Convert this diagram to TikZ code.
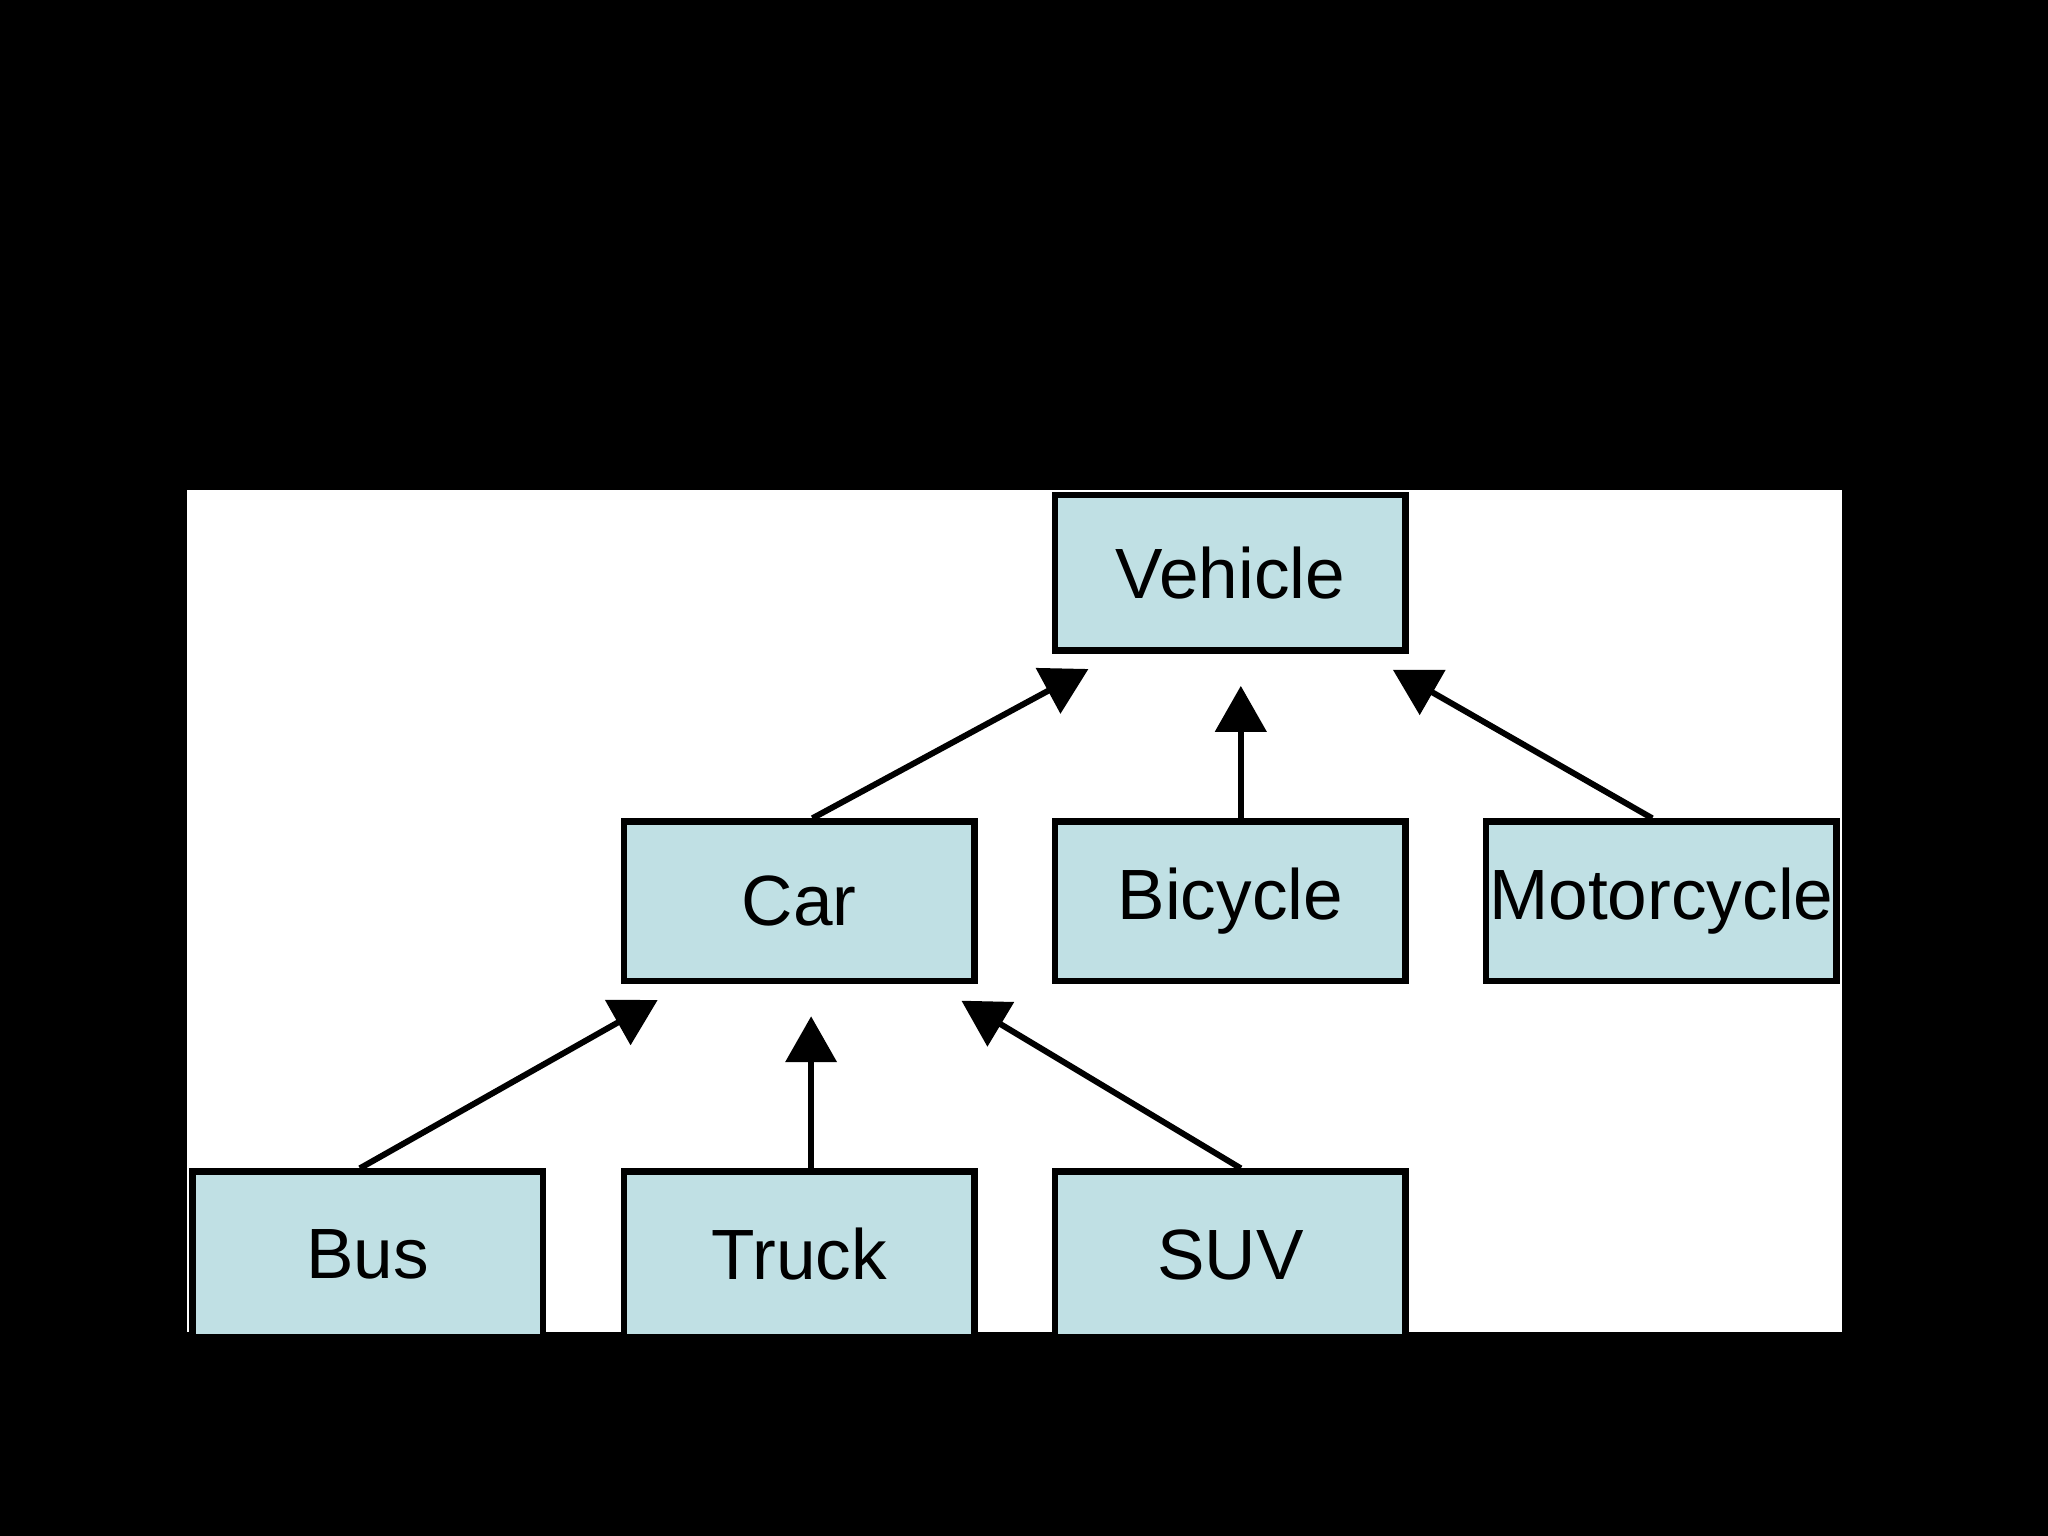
\documentclass[tikz,border=0pt]{standalone}
\usepackage{fontspec}
\setmainfont{Liberation Sans}
\usetikzlibrary{calc,arrows.meta}
\definecolor{boxfill}{RGB}{192,224,228}
\begin{document}
\begin{tikzpicture}[x=0.01cm,y=-0.01cm,
  cls/.style={draw=black,line width=1.4pt,fill=boxfill,minimum width=2.68cm,inner sep=0pt,font=\fontsize{15.5}{18}\selectfont},
  inh/.style={line width=1.3pt,-{Triangle[length=10pt,width=11pt]},shorten >=7pt}]
\fill[black] (0,0) rectangle (1568,1176);
\useasboundingbox (0,0) rectangle (1568,1176);
\fill[white] (143,375) rectangle (1410,1020);
\node[cls,minimum height=1.19cm] (veh) at (942,438.5) {Vehicle};
\node[cls,minimum height=1.22cm] (car) at (612,690) {Car};
\node[cls,minimum height=1.22cm] (bic) at (942,690) {Bicycle};
\node[cls,minimum height=1.22cm] (mot) at (1272,690) {Motorcycle};
\node[cls,minimum height=1.27cm] (bus) at (281.5,960.5) {Bus};
\node[cls,minimum height=1.27cm] (tru) at (612,960.5) {Truck};
\node[cls,minimum height=1.27cm] (suv) at (942,960.5) {SUV};
\fill[black] (143,1021) rectangle (1410,1176);
\draw[inh] ($(car.north)+(10,0)$) -- ($(veh.south)+(-87,0)$);
\draw[inh] ($(bic.north)+(8,0)$) -- ($(veh.south)+(8,0)$);
\draw[inh] ($(mot.north)+(-7,0)$) -- ($(veh.south)+(103,0)$);
\draw[inh] ($(bus.north)+(-6,0)$) -- ($(car.south)+(-87,0)$);
\draw[inh] ($(tru.north)+(9,0)$) -- ($(car.south)+(9,0)$);
\draw[inh] ($(suv.north)+(8,0)$) -- ($(car.south)+(103,0)$);
\end{tikzpicture}
\end{document}
